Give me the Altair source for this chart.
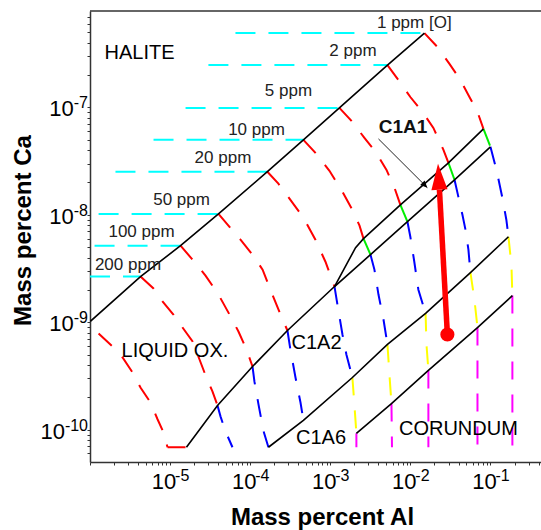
import altair as alt
import pandas as pd

# ---------------- data (mass percent) ----------------
al_domain = [1e-6, 0.428]
ca_domain = [5e-11, 7.9e-7]

ppm_texts = ["1 ppm [O]", "2 ppm", "5 ppm", "10 ppm", "20 ppm", "50 ppm", "100 ppm", "200 ppm"]
ppm_label_al = [1.12e-2, 1.92e-3, 3.01e-4, 1.20e-4, 4.57e-5, 1.39e-5, 4.40e-6, 2.98e-6]
ppm_label_ca = [6.10e-7, 3.35e-7, 1.42e-7, 6.18e-8, 3.40e-8, 1.38e-8, 6.97e-9, 3.43e-9]

# iso-oxygen lines inside HALITE (horizontal)
halite_ca = [4.92e-7, 2.48e-7, 9.9e-8, 4.99e-8, 2.52e-8, 1.02e-8, 5.16e-9, 2.66e-9]
halite_al_start = [6.55e-5, 3.01e-5, 1.56e-5, 6.21e-6, 2.08e-6, 1.28e-6, 1.14e-6, 1.0e-6]
halite_al_end = [1.50e-2, 5.18e-3, 1.30e-3, 4.62e-4, 1.64e-4, 4.02e-5, 1.35e-5, 4.27e-6]

# iso-oxygen curves below HALITE; phase = phase of the piece starting at that vertex
o1_al = [1.50e-2, 2.18e-2, 3.08e-2, 4.22e-2, 5.47e-2, 6.89e-2, 8.18e-2, 0.100, 0.119, 0.141, 0.158, 0.168, 0.183, 0.188, 0.188]
o1_ca = [4.92e-7, 3.65e-7, 2.54e-7, 1.80e-7, 1.25e-7, 9.08e-8, 6.31e-8, 4.30e-8, 2.62e-8, 1.44e-8, 9.0e-9, 6.25e-9, 3.37e-9, 1.77e-9, 6.86e-11]
o1_ph = ["L"] * 6 + ["C1A1"] + ["C1A2"] * 4 + ["C1A6"] * 2 + ["COR"] * 2

o2_al = [5.18e-3, 7.10e-3, 1.00e-2, 1.42e-2, 1.94e-2, 2.59e-2, 2.99e-2, 3.56e-2, 3.98e-2, 4.47e-2, 4.88e-2, 5.31e-2, 5.63e-2, 6.31e-2, 6.89e-2, 6.89e-2]
o2_ca = [2.48e-7, 1.80e-7, 1.25e-7, 9.08e-8, 6.44e-8, 4.03e-8, 3.05e-8, 2.12e-8, 1.47e-8, 1.0e-8, 7.28e-9, 4.74e-9, 2.90e-9, 1.63e-9, 8.93e-10, 6.86e-11]
o2_ph = ["L"] * 6 + ["C1A1"] + ["C1A2"] * 5 + ["C1A6"] * 2 + ["COR"] * 2

o5_al = [1.30e-3, 1.84e-3, 2.67e-3, 3.67e-3, 5.04e-3, 6.33e-3, 7.51e-3, 9.20e-3, 1.00e-2, 1.12e-2, 1.26e-2, 1.55e-2, 1.59e-2, 1.68e-2, 1.68e-2]
o5_ca = [9.9e-8, 7.49e-8, 5.21e-8, 3.86e-8, 2.62e-8, 1.79e-8, 1.24e-8, 8.63e-9, 6.25e-9, 3.66e-9, 2.01e-9, 1.21e-9, 6.21e-10, 3.56e-10, 6.86e-11]
o5_ph = ["L"] * 6 + ["C1A1"] + ["C1A2"] * 4 + ["C1A6"] * 2 + ["COR"] * 2

o10_al = [4.62e-4, 6.53e-4, 9.77e-4, 1.42e-3, 1.89e-3, 2.32e-3, 2.60e-3, 3.18e-3, 3.56e-3, 4.0e-3, 4.62e-3, 5.18e-3, 5.48e-3, 5.81e-3, 5.9e-3]
o10_ca = [4.99e-8, 3.78e-8, 2.57e-8, 1.64e-8, 1.11e-8, 7.93e-9, 6.00e-9, 4.26e-9, 3.09e-9, 1.81e-9, 1.06e-9, 6.21e-10, 3.27e-10, 1.75e-10, 6.86e-11]
o10_ph = ["L"] * 6 + ["C1A1"] + ["C1A2"] * 4 + ["C1A6"] * 2 + ["COR"] * 2

o20_al = [1.64e-4, 2.25e-4, 3.18e-4, 4.62e-4, 6.53e-4, 8.71e-4, 1.13e-3, 1.23e-3, 1.42e-3, 1.59e-3, 1.89e-3, 2.0e-3, 2.12e-3, 2.12e-3]
o20_ca = [2.52e-8, 1.95e-8, 1.38e-8, 9.40e-9, 5.87e-9, 3.66e-9, 2.15e-9, 1.46e-9, 7.69e-10, 5.01e-10, 3.06e-10, 1.72e-10, 9.25e-11, 6.86e-11]
o20_ph = ["L"] * 6 + ["C1A2"] * 4 + ["C1A6"] * 2 + ["COR"] * 2

o50_al = [4.02e-5, 5.52e-5, 7.57e-5, 1.07e-4, 1.43e-4, 1.79e-4, 2.39e-4, 2.92e-4, 3.18e-4, 3.68e-4, 4.25e-4, 4.62e-4]
o50_ca = [1.02e-8, 7.74e-9, 5.87e-9, 4.26e-9, 3.09e-9, 2.01e-9, 1.18e-9, 8.38e-10, 5.57e-10, 3.06e-10, 1.79e-10, 1.22e-10]
o50_ph = ["L"] * 7 + ["C1A2"] * 5

o100_al = [1.35e-5, 1.96e-5, 2.77e-5, 4.02e-5, 5.52e-5, 7.14e-5, 9.0e-5, 1.07e-4, 1.13e-4, 1.27e-4, 1.47e-4, 1.69e-4]
o100_ca = [5.16e-9, 3.74e-9, 2.72e-9, 1.81e-9, 1.18e-9, 8.20e-10, 5.57e-10, 3.87e-10, 2.81e-10, 1.72e-10, 9.64e-11, 6.86e-11]
o100_ph = ["L"] * 7 + ["C1A2"] * 5

o200_al = [4.27e-6, 6.21e-6, 8.04e-6, 1.10e-5, 1.43e-5, 1.91e-5, 2.33e-5, 2.84e-5, 3.38e-5, 3.91e-5, 4.26e-5, 4.92e-5, 6.01e-5]
o200_ca = [2.66e-9, 2.06e-9, 1.56e-9, 1.18e-9, 8.93e-10, 6.62e-10, 4.50e-10, 3.06e-10, 2.27e-10, 1.68e-10, 1.33e-10, 9.64e-11, 6.86e-11]
o200_ph = ["L"] * 9 + ["C1A2"] * 4

o500_al = [1.28e-6, 1.91e-6, 2.55e-6, 3.40e-6, 4.27e-6, 5.69e-6, 6.97e-6, 8.28e-6, 9.29e-6]
o500_ca = [7.85e-10, 5.94e-10, 4.70e-10, 3.41e-10, 2.47e-10, 1.79e-10, 1.25e-10, 9.44e-11, 6.86e-11]
o500_ph = ["L"] * 9

floor_al = [9.29e-6, 1.60e-5]
floor_ca = [6.86e-11, 6.86e-11]
floor_ph = ["L", "L"]

# phase boundaries
b_halite_al = [1.01e-6, 4.27e-6, 1.35e-5, 4.02e-5, 1.64e-4, 4.62e-4, 1.30e-3, 5.18e-3, 1.50e-2]
b_halite_ca = [1.02e-9, 2.66e-9, 5.16e-9, 1.02e-8, 2.52e-8, 4.99e-8, 9.9e-8, 2.48e-7, 4.92e-7]
b_c1a2_al = [1.60e-5, 3.91e-5, 1.07e-4, 2.92e-4, 1.13e-3, 3.18e-3, 9.20e-3, 3.56e-2, 0.100]
b_c1a2_ca = [6.86e-11, 1.68e-10, 3.87e-10, 8.38e-10, 2.15e-9, 4.26e-9, 8.63e-9, 2.12e-8, 4.30e-8]
b_c1a1_al = [1.13e-3, 1.64e-3, 2.07e-3, 2.60e-3, 7.51e-3, 2.99e-2, 8.18e-2]
b_c1a1_ca = [2.15e-9, 3.59e-9, 4.94e-9, 6.00e-9, 1.24e-8, 3.05e-8, 6.31e-8]
b_c1a6_al = [1.69e-4, 4.62e-4, 1.89e-3, 5.18e-3, 1.55e-2, 5.63e-2, 0.168]
b_c1a6_ca = [6.86e-11, 1.22e-10, 3.06e-10, 6.21e-10, 1.21e-9, 2.90e-9, 6.25e-9]
b_cor_al = [2.12e-3, 5.81e-3, 1.68e-2, 6.89e-2, 0.188]
b_cor_ca = [9.25e-11, 1.75e-10, 3.56e-10, 8.93e-10, 1.77e-9]

phase_names = ["HALITE", "LIQUID OX.", "C1A2", "C1A6", "CORUNDUM"]
phase_al = [4.15e-6, 1.15e-5, 6.73e-4, 7.66e-4, 3.98e-2]
phase_ca = [3.21e-7, 5.35e-10, 6.41e-10, 8.39e-11, 1.01e-10]

c1a1_text = ["C1A1"]
c1a1_al = [8.09e-3]
c1a1_ca = [6.52e-8]
pointer_al = [4.0e-3, 1.63e-2]
pointer_ca = [5.09e-8, 1.79e-8]

arrow_al = [2.90e-2, 2.31e-2]
arrow_ca = [7.69e-10, 1.71e-8]

# tick labels: base "10" with an exponent
x_major = [1e-5, 1e-4, 1e-3, 1e-2, 1e-1]
x_exp = ["-5", "-4", "-3", "-2", "-1"]
y_major = [1e-10, 1e-9, 1e-8, 1e-7]
y_exp = ["-10", "-9", "-8", "-7"]

# ---------------- build tables ----------------
seg_rows = []


def add_curve(name, al, ca, ph):
    n = len(al)
    i, sid = 0, 0
    while i < n - 1:
        j = i
        while j < n - 1 and ph[j] == ph[i]:
            j += 1
        for k in range(i, j + 1):
            seg_rows.append(dict(seg=f"{name}-{sid}", phase=ph[i], al=al[k], ca=ca[k], k=k))
        sid += 1
        i = j


for nm, a, c, p in [("o1", o1_al, o1_ca, o1_ph), ("o2", o2_al, o2_ca, o2_ph), ("o5", o5_al, o5_ca, o5_ph),
                    ("o10", o10_al, o10_ca, o10_ph), ("o20", o20_al, o20_ca, o20_ph),
                    ("o50", o50_al, o50_ca, o50_ph), ("o100", o100_al, o100_ca, o100_ph),
                    ("o200", o200_al, o200_ca, o200_ph), ("o500", o500_al, o500_ca, o500_ph),
                    ("floor", floor_al, floor_ca, floor_ph)]:
    add_curve(nm, a, c, p)
seg_df = pd.DataFrame(seg_rows)

cyan_rows = []
for i in range(len(halite_ca)):
    cyan_rows.append(dict(seg=i, al=halite_al_start[i], ca=halite_ca[i], k=0))
    cyan_rows.append(dict(seg=i, al=halite_al_end[i], ca=halite_ca[i], k=1))
cyan_df = pd.DataFrame(cyan_rows)

b_rows = []
for nm, a, c in [("hal", b_halite_al, b_halite_ca), ("c1a2", b_c1a2_al, b_c1a2_ca),
                 ("c1a1", b_c1a1_al, b_c1a1_ca), ("c1a6", b_c1a6_al, b_c1a6_ca), ("cor", b_cor_al, b_cor_ca)]:
    for k in range(len(a)):
        b_rows.append(dict(name=nm, al=a[k], ca=c[k], k=k))
b_df = pd.DataFrame(b_rows)

ppm_df = pd.DataFrame(dict(al=ppm_label_al, ca=ppm_label_ca, t=ppm_texts))
phase_df = pd.DataFrame(dict(al=phase_al, ca=phase_ca, t=phase_names))
c1a1_df = pd.DataFrame(dict(al=c1a1_al, ca=c1a1_ca, t=c1a1_text))
pointer_df = pd.DataFrame(dict(al=pointer_al, ca=pointer_ca, k=[0, 1]))
pointer_tip = pointer_df.iloc[[1]]
arrow_df = pd.DataFrame(dict(al=arrow_al, ca=arrow_ca, k=[0, 1]))
arrow_base = arrow_df.iloc[[0]]
arrow_head = arrow_df.iloc[[1]]
xlab_df = pd.DataFrame(dict(al=x_major, e=x_exp, b=["10"] * len(x_major)))
ylab_df = pd.DataFrame(dict(ca=y_major, e=y_exp, b=["10"] * len(y_major)))

# ---------------- scales & axes ----------------
FONT = "Liberation Sans"
W, H = 451, 451
BASE_FS, EXP_FS = 22, 16

x_ticks = [k * 10.0 ** e for e in range(-6, 0) for k in range(1, 10) if k * 10.0 ** e <= al_domain[1]]
y_ticks = [k * 10.0 ** e for e in range(-11, -6) for k in range(1, 10)
           if ca_domain[0] <= k * 10.0 ** e <= ca_domain[1]]

xscale = alt.Scale(type="log", domain=al_domain, nice=False)
yscale = alt.Scale(type="log", domain=ca_domain, nice=False)
xaxis = alt.Axis(values=x_ticks, labels=False, grid=False,
                 title="Mass percent Al", titleFont=FONT, titleFontSize=24, titleFontWeight="bold",
                 titleColor="black", titleX=232, titleY=62, titleAlign="center", titleBaseline="alphabetic",
                 tickSize=3, tickColor="#333", domainColor="#333", domainWidth=1.5)
yaxis = alt.Axis(values=y_ticks, labels=False, grid=False,
                 title="Mass percent Ca", titleFont=FONT, titleFontSize=24, titleFontWeight="bold",
                 titleColor="black", titleX=-60, titleY=219, titleAlign="center", titleBaseline="alphabetic",
                 titleAngle=270,
                 tickSize=3, tickColor="#333", domainColor="#333", domainWidth=1.5)
XE = alt.X("al:Q", scale=xscale, axis=xaxis)
YE = alt.Y("ca:Q", scale=yscale, axis=yaxis)

phase_color = alt.Color("phase:N", legend=None,
                        scale=alt.Scale(domain=["L", "C1A1", "C1A2", "C1A6", "COR"],
                                        range=["#ff0000", "#00ee00", "#0000ff", "#ffff00", "#ff00ff"]))

cyan = alt.Chart(cyan_df).mark_line(color="#00ffff", strokeWidth=2, strokeDash=[20, 13], clip=True).encode(
    x=XE, y=YE, detail="seg:N", order="k:Q")
curves = alt.Chart(seg_df).mark_line(strokeWidth=2, strokeDash=[18, 15], clip=True).encode(
    x=XE, y=YE, color=phase_color, detail="seg:N", order="k:Q")
bounds = alt.Chart(b_df).mark_line(color="black", strokeWidth=1.6, clip=True).encode(
    x=XE, y=YE, detail="name:N", order="k:Q")

ppm_txt = alt.Chart(ppm_df).mark_text(font=FONT, fontSize=17, color="#222", align="center",
                                      baseline="middle").encode(x=XE, y=YE, text="t:N")
phase_txt = alt.Chart(phase_df).mark_text(font=FONT, fontSize=20, color="black", align="center",
                                          baseline="middle").encode(x=XE, y=YE, text="t:N")
c1a1_txt = alt.Chart(c1a1_df).mark_text(font=FONT, fontSize=19, fontWeight="bold", color="#111",
                                        align="center", baseline="middle").encode(x=XE, y=YE, text="t:N")
pointer = alt.Chart(pointer_df).mark_line(color="#222", strokeWidth=1).encode(x=XE, y=YE, order="k:Q")
pointer_head = alt.Chart(pointer_tip).mark_point(shape="M0,0L0.45,1L-0.45,1Z", filled=True, size=196,
                                                  angle=135, color="black", opacity=1).encode(x=XE, y=YE)

shaft = alt.Chart(arrow_df).mark_line(color="#ff0000", strokeWidth=5.5).encode(x=XE, y=YE, order="k:Q")
head = alt.Chart(arrow_head).mark_point(shape="M0,-1L0.31,0L-0.31,0Z", filled=True, size=2704,
                                        angle=356.8, color="#ff0000", opacity=1).encode(x=XE, y=YE)
dot = alt.Chart(arrow_base).mark_circle(size=200, color="#ff0000", opacity=1).encode(x=XE, y=YE)

top_border = alt.Chart(pd.DataFrame({"v": [0]})).mark_rule(color="#333", strokeWidth=1.5).encode(
    x=alt.value(0), x2=alt.value(W), y=alt.value(0))

# tick labels as "10" + raised exponent
x_base = alt.Chart(xlab_df).mark_text(font=FONT, fontSize=BASE_FS, color="black", align="center",
                                      baseline="alphabetic", dx=-6).encode(
    x=XE, y=alt.value(H + 27), text="b:N")
x_expo = alt.Chart(xlab_df).mark_text(font=FONT, fontSize=EXP_FS, color="black", align="left",
                                      baseline="alphabetic", dx=5).encode(
    x=XE, y=alt.value(H + 18.5), text="e:N")
y_expo = alt.Chart(ylab_df).mark_text(font=FONT, fontSize=EXP_FS, color="black", align="right",
                                      baseline="alphabetic", dy=1).encode(
    x=alt.value(-2), y=YE, text="e:N")


def exp_width(s):
    return EXP_FS * sum(0.333 if ch == "-" else 0.556 for ch in s)


y_base_layers = []
for wlen in sorted(set(len(s) for s in y_exp)):
    sub = ylab_df[ylab_df["e"].str.len() == wlen]
    y_base_layers.append(
        alt.Chart(sub).mark_text(font=FONT, fontSize=BASE_FS, color="black", align="right",
                                 baseline="alphabetic", dy=9).encode(
            x=alt.value(-2 - exp_width(sub["e"].iloc[0])), y=YE, text="b:N"))

chart = alt.layer(cyan, curves, bounds, pointer, pointer_head, shaft, head, dot,
                  ppm_txt, phase_txt, c1a1_txt, top_border, x_base, x_expo, y_expo,
                  *y_base_layers).properties(
    width=W, height=H, autosize="none",
    padding={"left": 90, "top": 11, "right": 0, "bottom": 68},
    background="white",
).configure_view(stroke=None)

chart.save("out.html", embed_options={"renderer": "svg", "actions": False})
